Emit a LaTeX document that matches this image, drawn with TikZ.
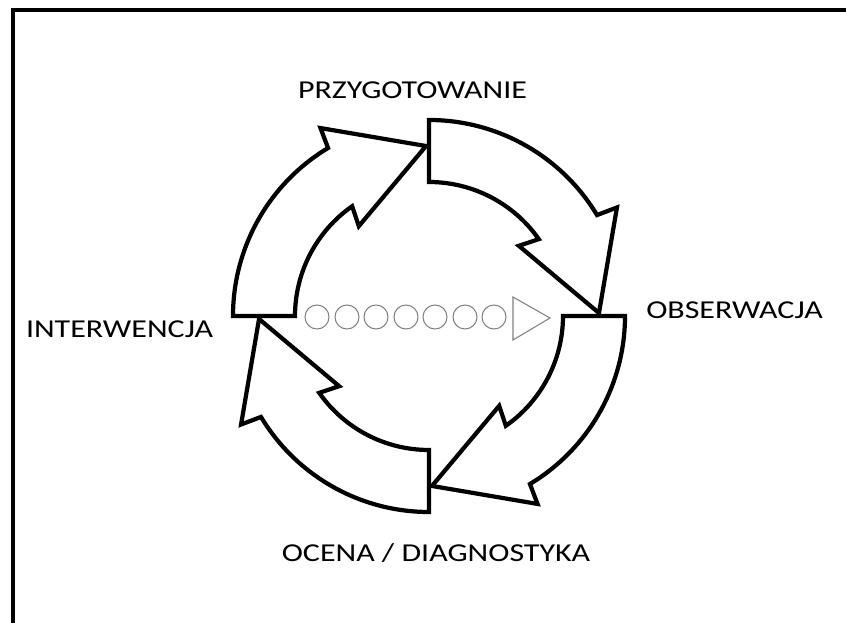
\documentclass[tikz,border=0pt]{standalone}
\usepackage{fontspec}
\setmainfont{Carlito}[FakeStretch=1.24]
\usepackage{tikz}

\begin{document}
\begin{tikzpicture}[x=0.03cm, y=0.03cm,
    cyc/.style={draw=black, fill=white, line width=3.6pt},
    lbl/.style={anchor=base, inner sep=0pt, font=\fontsize{22}{26}\selectfont},
    dot/.style={draw=gray, line width=0.9pt}]
    \useasboundingbox (0,0) rectangle (846,623);
    \draw[line width=0.12cm] (846,613) -- (13,613) -- (13,0);
    % the four curved arrows, tail at \t, running clockwise
    \begin{scope}[shift={(429,307)}]
      \foreach \t in {90,0,-90,180}{
        \draw[cyc] (\t:196) arc[start angle=\t, end angle={\t-59}, radius=196]
          -- ({\t-60}:217) -- ({\t-89}:170) -- ({\t-52}:114)
          -- ({\t-55}:134) arc[start angle={\t-55}, end angle=\t, radius=134]
          -- cycle;
      }
    \end{scope}
    \node[lbl] (prep) at (412.5,524) {PRZYGOTOWANIE};
    \node[lbl] (obs) at (734.5,304) {OBSERWACJA};
    \node[lbl] (eval) at (436,61) {OCENA / DIAGNOSTYKA};
    \node[lbl] (interv) at (119.5,285) {INTERWENCJA};
    % small circles and the open head
    \foreach \x [count=\i] in {317,347,376,406,435,465,494}{
        \draw[dot] (\x,306) circle (12);
      }
    \draw[dot] (513,326) -- (550,305) -- (513,283) -- cycle;
  \end{tikzpicture}
\end{document}
